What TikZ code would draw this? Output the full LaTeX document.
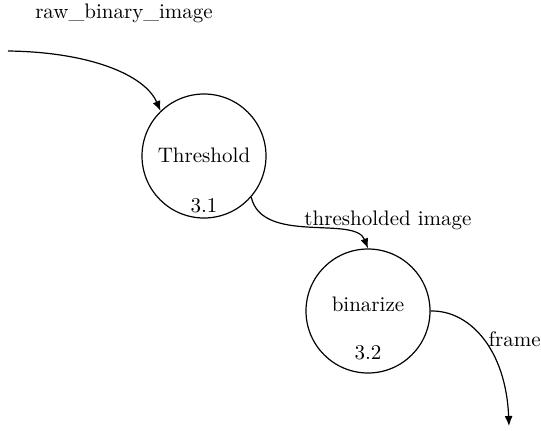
\documentclass[tikz,border=0pt]{standalone}
\usetikzlibrary{arrows.meta}

\tikzset{
  proc/.style = {draw, circle, line width=0.6pt, minimum size=62pt, inner sep=0pt},
  txt/.style = {anchor=base, inner sep=0pt, font=\fontsize{10.5}{13}\selectfont},
  flow/.style = {line width=0.6pt, -{Latex[length=5pt,width=4pt]}}
}

\begin{document}
\begin{tikzpicture}[x=0.5pt,y=-0.5pt]
\useasboundingbox (0,0) rectangle (541,430);
\coordinate (src) at (8,51);
\coordinate (sink) at (509,426);
\node[proc] (thr) at (204,156) {};
\node[txt] (thrname) at (204,162) {Threshold};
\node[txt] (thrnum) at (204,212) {3.1};
\node[proc] (bin) at (368,311) {};
\node[txt] (binname) at (368,311) {binarize};
\node[txt] (binnum) at (368,359) {3.2};
\draw[flow] (src) .. controls (90,52) and (145,75) .. (thr.134);
\draw[flow] (thr.-41) .. controls (262,245) and (355,215) .. (bin.north);
\draw[flow] (bin.0) .. controls (470,310) and (506,350) .. (sink);
\node[txt] (rawlabel) at (124,18) {raw\_binary\_image};
\node[txt] (thrlabel) at (388,225) {thresholded image};
\node[txt, anchor=base east] (framelabel) at (541,346) {frame};
\end{tikzpicture}
\end{document}
